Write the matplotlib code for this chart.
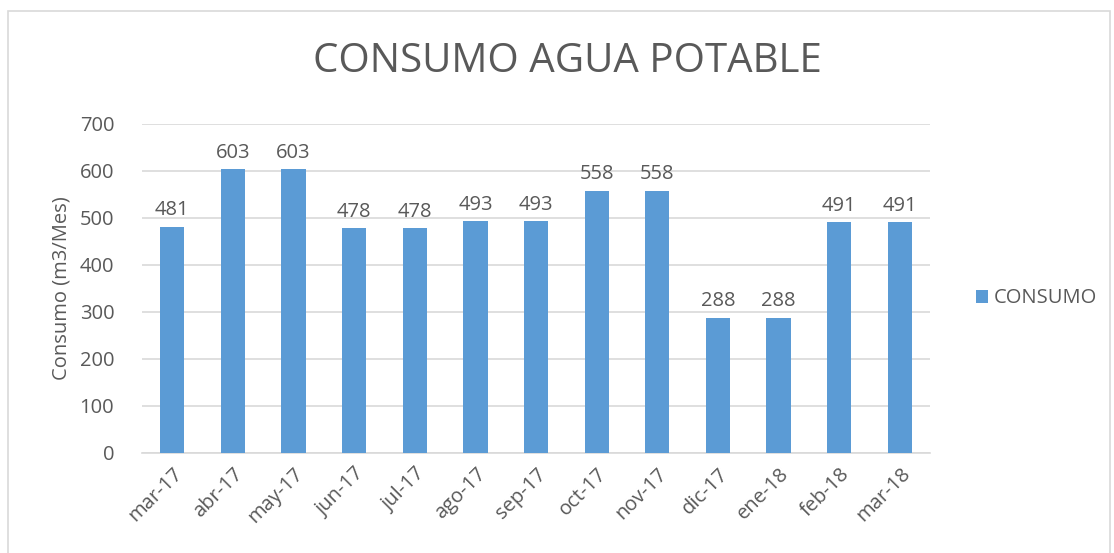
import matplotlib.pyplot as plt
from matplotlib.patches import Rectangle

meses = ['mar-17', 'abr-17', 'may-17', 'jun-17', 'jul-17', 'ago-17', 'sep-17',
         'oct-17', 'nov-17', 'dic-17', 'ene-18', 'feb-18', 'mar-18']
consumo = [481, 603, 603, 478, 478, 493, 493, 558, 558, 288, 288, 491, 491]

plt.rcParams['font.family'] = ['Open Sans', 'DejaVu Sans']
gris = '#595959'
azul = '#5B9BD5'

fig = plt.figure(figsize=(11.14, 5.53), dpi=100)
ax = fig.add_axes([0.1275, 0.181, 0.7075, 0.595])

x = range(len(meses))
bars = ax.bar(x, consumo, width=0.4, color=azul, label='CONSUMO', zorder=3)
for xi, v in zip(x, consumo):
    ax.text(xi, v + 14, str(v), ha='center', va='bottom', fontsize=14.5, color=gris)

ax.set_xlim(-0.5, len(meses) - 0.5)
ax.set_ylim(0, 700)
ax.set_yticks(range(0, 701, 100))
ax.set_xticks(list(x))
ax.set_xticklabels(meses, rotation=45, ha='right', rotation_mode='anchor')
ax.tick_params(axis='both', length=0, labelsize=14.5, labelcolor=gris)
ax.tick_params(axis='y', pad=20)
ax.tick_params(axis='x', pad=8)
ax.grid(axis='y', color='#d9d9d9', linewidth=1.2, zorder=0)
for s in ['top', 'right', 'left']:
    ax.spines[s].set_visible(False)
ax.spines['bottom'].set_color('#d9d9d9')
ax.spines['bottom'].set_linewidth(1.2)
ax.set_ylabel('Consumo (m3/Mes)', fontsize=14.5, color=gris, labelpad=6)

fig.text(0.509, 0.888, 'CONSUMO AGUA POTABLE', ha='center', va='center',
         fontsize=29, color=gris)

ax.legend(loc='center left', bbox_to_anchor=(1.035, 0.47), frameon=False,
          fontsize=14.5, labelcolor=gris, handlelength=0.6, handleheight=0.6,
          handletextpad=0.3)

fig.patches.append(Rectangle((8 / 1114, -0.01), 1102 / 1114, 1 - 11 / 553 + 0.01,
                             transform=fig.transFigure, fill=False,
                             edgecolor='#d9d9d9', linewidth=1.2))

fig.savefig('out.png', dpi=100)
